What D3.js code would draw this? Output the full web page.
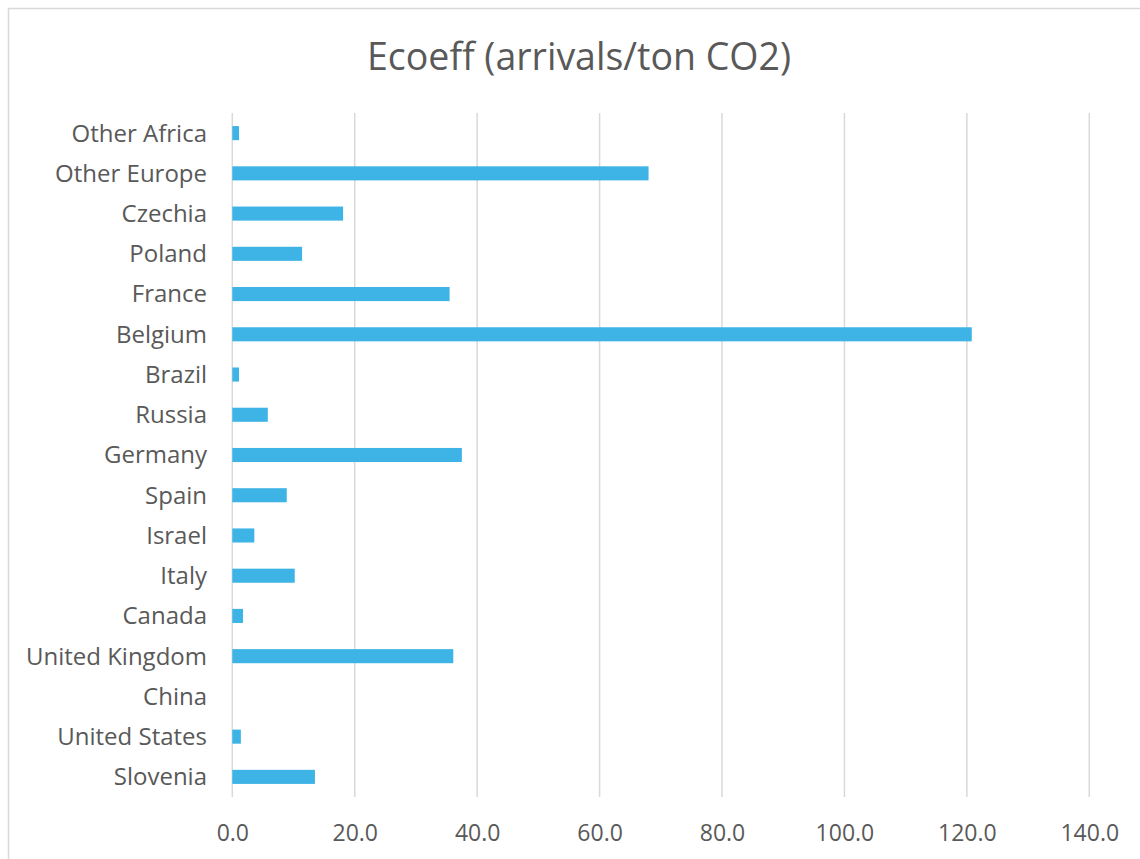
<!DOCTYPE html>
<html><head><meta charset="utf-8">
<script src="https://cdn.jsdelivr.net/npm/d3@7"></script>
<style>html,body{margin:0;padding:0;background:#fff;overflow:hidden}</style>
</head><body><svg id="c" width="1140" height="859"></svg>
<script>
const categories = ["Other Africa","Other Europe","Czechia","Poland","France","Belgium","Brazil","Russia","Germany","Spain","Israel","Italy","Canada","United Kingdom","China","United States","Slovenia"];
const values = [1.1,68.0,18.1,11.4,35.5,120.8,1.1,5.8,37.5,8.9,3.6,10.2,1.75,36.1,0,1.4,13.5];
const tickValues = [0,20,40,60,80,100,120,140];
const title = "Ecoeff (arrivals/ton CO2)";

(function(){
const svg = d3.select("#c");
const font = "'Open Sans', sans-serif";
svg.append("rect").attr("x",8.5).attr("y",8.5).attr("width",1200).attr("height",900)
  .attr("fill","#fff").attr("stroke","#d9d9d9").attr("stroke-width",1.5);

const pL = 232.3, pR = 1089.3, pT = 113, pB = 797;
const x = d3.scaleLinear().domain([0,140]).range([pL,pR]);
const y = d3.scaleBand().domain(categories).range([pT,pB]).paddingInner(0.65).paddingOuter(0.325);

svg.append("g").selectAll("line").data(tickValues).join("line")
  .attr("x1",d=>x(d)).attr("x2",d=>x(d)).attr("y1",pT).attr("y2",pB)
  .attr("stroke","#d9d9d9").attr("stroke-width",1.5);

svg.append("g").selectAll("rect").data(values).join("rect")
  .attr("x",x(0)).attr("y",(d,i)=>y(categories[i]))
  .attr("width",d=>x(d)-x(0)).attr("height",y.bandwidth())
  .attr("fill","#3eb4e6");

const xAxis = d3.axisBottom(x).tickValues(tickValues).tickFormat(d3.format(".1f")).tickSize(0).tickPadding(0);
const gx = svg.append("g").attr("transform",`translate(0,${pB})`).call(xAxis);
gx.select(".domain").remove();
gx.selectAll("text").attr("font-family",font).attr("font-size",23).attr("fill","#595959").attr("dy","0").attr("y",44);

const yAxis = d3.axisLeft(y).tickSize(0).tickPadding(0);
const gy = svg.append("g").attr("transform",`translate(207,0)`).call(yAxis);
gy.select(".domain").remove();
gy.selectAll("text").attr("font-family",font).attr("font-size",24).attr("fill","#595959").attr("dy","0.35em");

svg.append("text").attr("x",579).attr("y",70).attr("text-anchor","middle")
  .attr("font-family",font).attr("font-size",37.5).attr("fill","#595959").text(title);
})();
</script></body></html>
